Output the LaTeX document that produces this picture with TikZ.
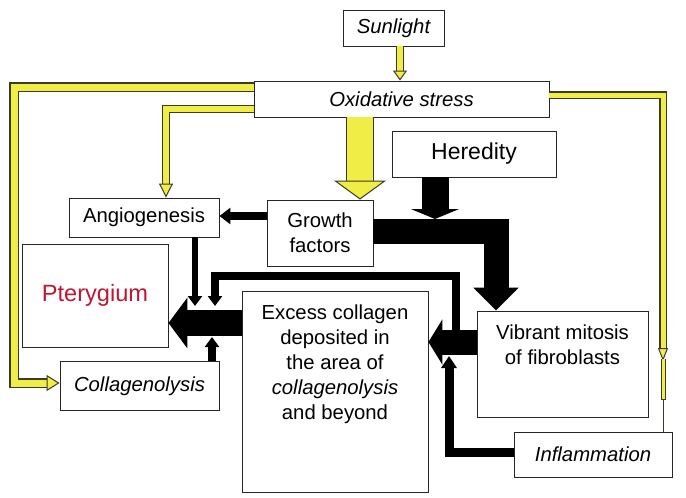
\documentclass[tikz,border=0pt]{standalone}
\usepackage{fontspec}
\setmainfont{Liberation Sans}
\usetikzlibrary{arrows.meta}

\definecolor{ylwfill}{RGB}{240,238,70}
\definecolor{ylwline}{RGB}{60,58,40}
\definecolor{pterred}{RGB}{190,22,52}

\tikzset{
	box/.style={draw=black!85, line width=0.9pt, fill=white, inner sep=0pt, align=center},
	blk/.style={line width=#1, line join=miter},
}

% yellow arrow: shaft width, head length, head width, path
\newcommand{\ylw}[4]{%
	\pgfmathsetlengthmacro\ylwouter{#1+2.4pt}%
	\draw[ylwline, line width=\ylwouter, line join=miter, shorten >=#2] #4;
	\draw[ylwfill, line width=#1, line join=miter, -{Triangle[length=#2, width=#3, fill=ylwfill, color=ylwline, line width=1pt]}] #4;
}

\begin{document}
\begin{tikzpicture}[x=1pt, y=-1pt, font=\fontsize{20.3}{25}\selectfont]
				\useasboundingbox (0,0) rectangle (686,498);
				
				%boxes
				\node at (393.5,28) [box, minimum width=101, minimum height=36] (sun) {\itshape Sunlight};
				\node at (401.5,99) [box, minimum width=295, minimum height=36] (oxi) {\itshape Oxidative stress};
				\node at (474,154) [box, minimum width=164, minimum height=46, font=\fontsize{23}{26}\selectfont] (hered) {Heredity};
				\node at (144,217.5) [box, minimum width=150, minimum height=39] (angio) {Angiogenesis};
				\node at (320,233) [box, minimum width=106, minimum height=66] (growth) {Growth\\factors};
				\node at (95,295.5) [box, minimum width=146, minimum height=103, text=pterred, font=\fontsize{23.6}{26}\selectfont] (ptery) {Pterygium};
				\node at (139.5,386) [box, minimum width=159, minimum height=49] (colla) {\itshape Collagenolysis};
				\node at (335,391.5) [box, minimum width=186, minimum height=201] (excess) {};
				\node at (335,301) [anchor=north, align=center] (excesstxt) {Excess collagen\\deposited in\\the area of\\\textit{collagenolysis}\\and beyond};
				\node at (562.5,364) [box, minimum width=171, minimum height=106] (vibrant) {};
				\node at (562.5,321) [anchor=north, align=center] (vibranttxt) {Vibrant mitosis\\of fibroblasts};
				\node at (593,454.5) [box, minimum width=158, minimum height=45] (inflam) {\itshape Inflammation};
				
				%yellow arrows
				\draw[ylwline, line width=0.9pt] (oxi.east |- 0,95) -| (inflam.north -| 663,0);
				\ylw{5pt}{13pt}{10pt}{(oxi.east |- 0,95) -| (663,361)}
				\draw[ylwline, line width=5pt] (663,359) -- (663,400);
				\draw[ylwfill, line width=3pt] (663,359) -- (663,399);
				\ylw{6pt}{10pt}{14pt}{(sun.south -| 400,0) -- (oxi.north -| 400,0)}
				\ylw{7pt}{13pt}{16pt}{(oxi.west |- 0,87) -| (14,383) -- (colla.west |- 0,383)}
				\ylw{6pt}{14pt}{14pt}{(oxi.west |- 0,109) -| (angio.north -| 166,0)}
				\ylw{26pt}{19pt}{52pt}{(oxi.south -| 360,0) -- (growth.north -| 360,0)}
				
				%black arrows
				\coordinate (hjoin) at (435,219);
				\coordinate (pjoin1) at (195,306);
				\coordinate (pjoin2) at (212,337);
				\coordinate (loopstart) at (456,342);
				\coordinate (loopend) at (215,306);
				\coordinate (ejoin) at (449,356);
				\draw[blk=8pt, -{Triangle[length=11pt, width=16pt]}] (growth.west |- 0,216) -- (angio.east |- 0,216);
				\draw[blk=25pt, -{Triangle[length=23pt, width=44pt]}] (growth.east |- 0,231.5) -| (vibrant.north -| 496,0);
				\draw[blk=27pt, -{Triangle[length=10pt, width=48pt]}] (hered.south -| 435,0) -- (hjoin);
				\draw[blk=8pt, -{Triangle[length=10pt, width=14pt]}] (loopstart) -- (456,276) -| (loopend);
				\draw[blk=26pt, -{Triangle[length=19pt, width=50pt]}] (excess.west |- 0,323) -- (ptery.east |- 0,323);
				\draw[blk=6pt, -{Triangle[length=10pt, width=14pt]}] (angio.south -| 195,0) -- (pjoin1);
				\draw[blk=8pt, -{Triangle[length=10pt, width=14pt]}] (colla.north -| 212,0) -- (pjoin2);
				\draw[blk=25pt, -{Triangle[length=14pt, width=45pt]}] (vibrant.west |- 0,342) -- (excess.east |- 0,342);
				\draw[blk=9pt, -{Triangle[length=12pt, width=15pt]}] (inflam.west |- 0,452) -| (ejoin);
			\end{tikzpicture}
\end{document}
